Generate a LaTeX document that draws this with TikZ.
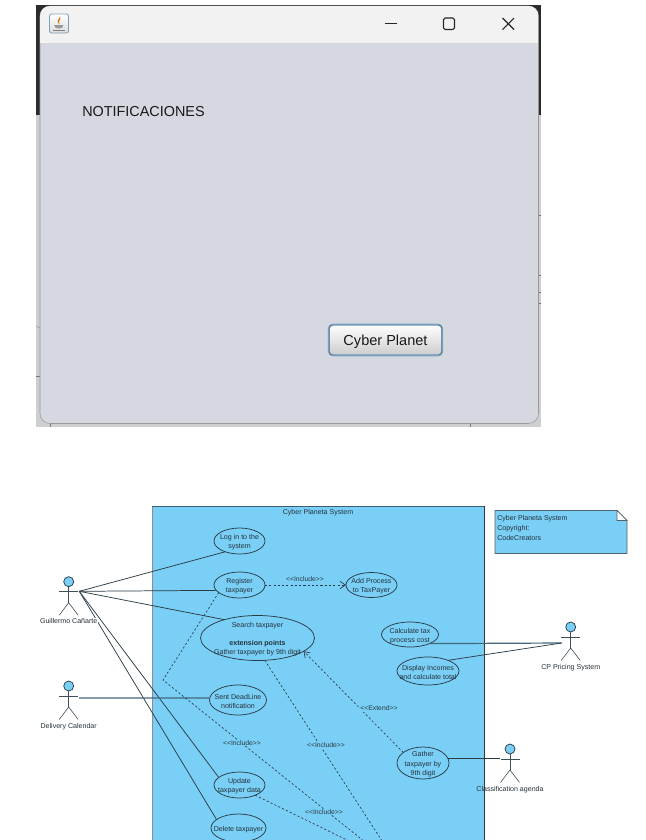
\documentclass[tikz,border=0pt]{standalone}
\usepackage{fontspec}
\setmainfont{Liberation Sans}
\usetikzlibrary{shapes.geometric,arrows.meta,shapes.misc}
\definecolor{umlblue}{HTML}{7ACFF6}
\definecolor{umlink}{HTML}{2A3A44}
\definecolor{winbody}{HTML}{D5D8E0}
\definecolor{winbar}{HTML}{F2F2F2}
\definecolor{backdark}{HTML}{2B2B2B}
\definecolor{backlight}{HTML}{CDCFD0}
\definecolor{btnring}{HTML}{7FA8CE}
\definecolor{iconring}{HTML}{7F9DB5}
\tikzset{
  uc/.style n args={3}{ellipse,draw=umlink,line width=0.55pt,inner sep=0pt,outer sep=0pt,
    minimum width=#1*0.75pt,minimum height=#2*0.75pt,
    label={[umltext,align=center,yshift=-1pt]center:{#3}}},
  umltext/.style={font=\fontsize{5.3}{6.9}\selectfont,text=umlink!85!black,inner sep=0pt},
  stereo/.style={font=\fontsize{5.1}{6}\selectfont,text=umlink,fill=umlblue,inner sep=0.6pt},
  assoc/.style={draw=umlink,line width=0.55pt},
  assocgrey/.style={draw=umlink!70!umlblue,line width=0.9pt},
  dep/.style={draw=umlink,line width=0.5pt,dash pattern=on 1.6pt off 1.6pt},
  openhead/.style={-{Straight Barb[length=4pt,width=5.5pt,line width=0.5pt]}},
  actorhead/.style={circle,draw=umlink,fill=umlblue,line width=0.55pt,minimum size=7.5pt,inner sep=0pt,outer sep=0pt},
  actorline/.style={draw=umlink!90!white,line width=0.45pt},
  actorname/.style={font=\fontsize{5.3}{6.4}\selectfont,text=umlink!85!black,inner sep=0.5pt},
  capbtn/.style={draw=black!85,line width=0.8pt},
  frameline/.style={draw=umlink!75!umlblue,line width=0.7pt},
  backtick/.style={draw=black!55,line width=0.6pt},
}
\newcommand{\umlactor}[3]{%
  \node[actorhead] (#1) at (#2,#3) {};
  \coordinate (#1neck) at ([yshift=-10*0.75pt]#1.center);
  \coordinate (#1hip) at ([yshift=-21*0.75pt]#1.center);
  \draw[actorline] (#1.south) -- (#1hip);
  \draw[actorline] ([xshift=-9.5*0.75pt]#1neck) -- ([xshift=9.5*0.75pt]#1neck);
  \draw[actorline] ([xshift=-9.5*0.75pt,yshift=-12.5*0.75pt]#1hip) -- (#1hip) -- ([xshift=9.5*0.75pt,yshift=-12.5*0.75pt]#1hip);
}
\begin{document}
\begin{tikzpicture}[x=0.75pt,y=-0.75pt]
\useasboundingbox (0,0) rectangle (646,840);
\clip (0,0) rectangle (646,840);
% backdrop of the screenshot
\fill[backlight] (36,114) rectangle (540.5,427);
\fill[backdark] (36,5) rectangle (540.5,114.5);
\draw[backtick] (36,376) -- (40,376);
\draw[backtick,draw=black!35] (36,326) -- (40,328);
\draw[backtick] (50,423) -- (50,427);
\draw[backtick] (470,423) -- (470,427);
\draw[backtick] (538,215) -- (540.5,215);
\draw[backtick] (538,275) -- (540.5,275);
\draw[backtick] (538,292) -- (540.5,292);
\draw[backtick] (538,303) -- (540.5,303);
% window
\fill[winbody,draw=black!40,line width=0.4pt,rounded corners=7.5pt] (40,6) rectangle (538.5,423.5);
\begin{scope}
  \clip[rounded corners=7.5pt] (40,6) rectangle (538.5,423.5);
  \fill[winbar] (40,6) rectangle (538.5,43);
\end{scope}
% java icon
\node[draw=iconring,rounded corners=1.5pt,line width=0.6pt,minimum width=14.2pt,minimum height=14.2pt,inner sep=0pt,top color=white,bottom color=black!14] (javaicon) at (59,23.5) {};
\fill[orange!85!black] (60.5,16.5) .. controls (61.5,19) and (57.5,20) .. (59.5,24.5) .. controls (55.5,21) and (59,19) .. (60.5,16.5);
\fill[black!40] (54,25) -- (63.5,25) .. controls (63.5,28) and (61,28.5) .. (59,28.5) .. controls (57,28.5) and (54,28) .. (54,25);
\draw[black!50,line width=0.5pt] (53,30) -- (64.5,30);
% caption buttons
\draw[capbtn] (385,23.5) -- (397,23.5);
\draw[capbtn,rounded corners=1.2pt] (443.5,18) rectangle (454.5,29.5);
\draw[capbtn] (502.5,18) -- (514,29.5);
\draw[capbtn] (514,18) -- (502.5,29.5);
\node[anchor=west,inner sep=0pt,font=\fontsize{10.8}{13}\selectfont,text=black!90] (notif) at (82,112) {NOTIFICACIONES};
% button
\node[rounded corners=3pt,draw=btnring,line width=1.5pt,minimum width=85pt,minimum height=23pt,inner sep=0pt,top color=white,bottom color=black!20,font=\fontsize{10.9}{13}\selectfont,text=black!90,text height=7.8pt,text depth=0pt] (cyberbtn) at (385.5,340) {Cyber Planet};
\draw[rounded corners=2.5pt,black!65,line width=0.35pt] ([xshift=1pt,yshift=1pt]cyberbtn.south west) rectangle ([xshift=-1pt,yshift=-1pt]cyberbtn.north east);
% system frame
\fill[umlblue] (152,506) rectangle (484,850);
\draw[frameline,draw=black!45] (152,850) -- (152,506);
\draw[frameline,line width=0.5pt] (152,506) -- (484,506);
\draw[frameline,draw=umlink] (484,506) -- (484,850);
\node[umltext] (systitle) at (318,512.5) {Cyber Planeta System};
% note
\draw[fill=umlblue,draw=umlink!80!white,line width=0.6pt] (495,510.5) -- (617,510.5) -- (627,520.5) -- (627,553.5) -- (495,553.5) -- cycle;
\draw[fill=white,draw=umlink!80!white,line width=0.5pt] (617,510.5) -- (627,520.5) -- (617,520.5) -- cycle;
\node[umltext,anchor=north west,align=left,font=\fontsize{5.3}{7.5}\selectfont] (note) at (497,515.5) {Cyber Planeta System\\Copyright:\\CodeCreators};
% use cases
\node[uc={51}{26}{Log in to the\\system}] (login) at (239.5,541) {};
\node[uc={51}{26}{Register\\taxpayer}] (register) at (239.5,585) {};
\node[uc={51}{25}{Add Process\\to TaxPayer}] (addproc) at (371.5,585) {};
\node[uc={114}{45}{Search taxpayer\\[6.4pt]\textbf{extension points}\\Gather taxpayer by 9th digit}] (search) at (257.5,638) {};
\node[uc={57}{25}{Calculate tax\\process cost}] (calc) at (410,634.5) {};
\node[uc={62}{28}{Display Incomes\\and calculate total}] (display) at (428,671) {};
\node[uc={57}{30}{Sent DeadLine\\notification}] (sent) at (238,700) {};
\node[uc={52}{32}{Gather\\taxpayer by\\9th digit}] (gather) at (423,763) {};
\node[uc={51}{26}{Update\\taxpayer data}] (update) at (239.5,785) {};
\node[uc={55}{28}{Delete taxpayer}] (delete) at (238.5,828) {};
% actors
\umlactor{guille}{68.7}{581.7}
\umlactor{deliv}{68.7}{686}
\umlactor{cppricing}{570.7}{627}
\umlactor{classif}{510}{749}
\coordinate (guillehand) at (79.3,591.3);
\coordinate (delivhand) at (79,698);
\coordinate (cphand) at (561.7,643);
\coordinate (classifhand) at (500,758.5);
\coordinate (bendone) at (163,680);
\coordinate (offone) at (375,850);
\coordinate (offtwo) at (388,850);
\coordinate (offthree) at (388,860);
% associations
\draw[assoc] (guillehand) -- (login.217);
\draw[assoc] (guillehand) -- (register.193);
\draw[assoc] (guillehand) -- (search.151);
\draw[assoc] (guillehand) -- (update.160);
\draw[assoc] (guillehand) -- (delete.159);
\draw[assocgrey] (delivhand) -- (sent.176);
\draw[assocgrey] (calc.-25) -- (cphand);
\draw[assoc] (display.28) -- (cphand);
\draw[assoc] (gather.10) -- (classifhand);
% dependencies
\draw[dep,openhead] (register.east) -- (addproc.west);
\draw[dep] (register.200) -- (bendone) -- (offone);
\draw[dep] (search.-72) -- (offtwo);
\draw[dep] (update.-33) -- (offthree);
\draw[dep,openhead] (gather.152) -- (search.-16);
% stereotype labels
\node[stereo,fill=none] (inclreg) at (305,579.5) {<{}<Include>{}>};
\node[stereo] (inclone) at (242,743) {<{}<Include>{}>};
\node[stereo] (incltwo) at (326,745.5) {<{}<Include>{}>};
\node[stereo] (inclthree) at (324,812) {<{}<Include>{}>};
\node[stereo] (extend) at (379,708.5) {<{}<Extend>{}>};
% actor names
\node[actorname,fill=white] (guillename) at (68.7,621) {Guillermo Cañarte};
\node[actorname] (delivname) at (68.7,726.5) {Delivery Calendar};
\node[actorname] (cpname) at (570.7,667.5) {CP Pricing System};
\node[actorname] (classifname) at (510,789.5) {Classification agenda};
\end{tikzpicture}
\end{document}
